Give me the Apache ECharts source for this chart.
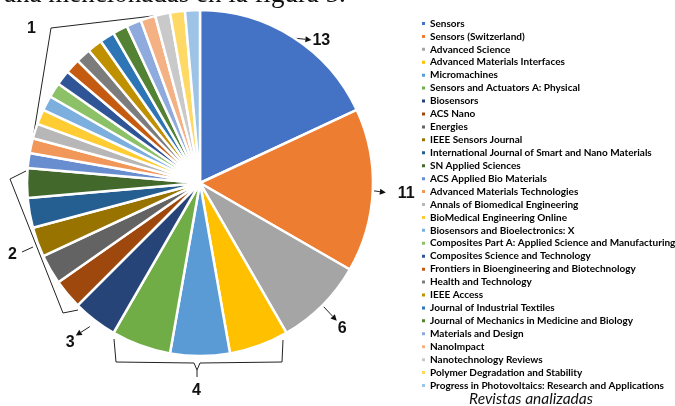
<!DOCTYPE html>
<html>
<head>
<meta charset="utf-8">
<script src="https://cdn.jsdelivr.net/npm/echarts@6/dist/echarts.min.js"></script>
<style>
html,body{margin:0;padding:0;background:#fff;}
#c{width:675px;height:406px;}
</style>
</head>
<body>
<div id="c"></div>
<script>
const journals = [
  'Sensors','Sensors (Switzerland)','Advanced Science','Advanced Materials Interfaces','Micromachines',
  'Sensors and Actuators A: Physical','Biosensors','ACS Nano','Energies','IEEE Sensors Journal',
  'International Journal of Smart and Nano Materials','SN Applied Sciences','ACS Applied Bio Materials',
  'Advanced Materials Technologies','Annals of Biomedical Engineering','BioMedical Engineering Online',
  'Biosensors and Bioelectronics: X','Composites Part A: Applied Science and Manufacturing',
  'Composites Science and Technology','Frontiers in Bioengineering and Biotechnology','Health and Technology',
  'IEEE Access','Journal of Industrial Textiles','Journal of Mechanics in Medicine and Biology',
  'Materials and Design','NanoImpact','Nanotechnology Reviews','Polymer Degradation and Stability',
  'Progress in Photovoltaics: Research and Applications'
];
const counts = [13,11,6,4,4,4,3,2,2,2,2,2,1,1,1,1,1,1,1,1,1,1,1,1,1,1,1,1,1];
const colors = [
  '#4472C4','#ED7D31','#A5A5A5','#FFC000','#5B9BD5','#70AD47',
  '#264478','#9E480E','#636363','#997300','#255E91','#43682B',
  '#698ED0','#F1975A','#B7B7B7','#FFCD33','#7CAFDD','#8CC168',
  '#2F5597','#C55A11','#7C7C7C','#BF9000','#2E75B6','#548235',
  '#8FAADC','#F4B183','#C9C9C9','#FFD966','#9DC3E6'
];
const legendTitle = 'Revistas analizadas';
const headerText = 'ana mencionadas en la figura 5.';

const cx = 200, cy = 183, R = 173;
const total = counts.reduce((a,b)=>a+b,0);
function midAngle(i){ let s=0; for(let k=0;k<i;k++) s+=counts[k]; return (s+counts[i]/2)/total*360; }
function P(a,r){ const t=a*Math.PI/180; return [cx+r*Math.sin(t), cy-r*Math.cos(t)]; }

const chart = echarts.init(document.getElementById('c'), null, {renderer:'canvas'});
const lineStyle = {stroke:'#222', lineWidth:1, fill:null};
const numFont = 'bold 16px "Liberation Sans", Arial, sans-serif';
function arrow(i, r0, end){
  const s = P(midAngle(i), r0);
  const dx = end[0]-s[0], dy = end[1]-s[1], L = Math.hypot(dx,dy);
  const ux = dx/L, uy = dy/L;
  const h = 6, w = 3;
  const b = [end[0]-ux*h, end[1]-uy*h];
  return [
    {type:'line', shape:{x1:s[0],y1:s[1],x2:b[0],y2:b[1]}, style:lineStyle},
    {type:'polygon', shape:{points:[end,[b[0]-uy*w,b[1]+ux*w],[b[0]+uy*w,b[1]-ux*w]]}, style:{fill:'#111'}}
  ];
}
const a13 = P(midAngle(0),172), a11 = P(midAngle(1),171), a6 = P(midAngle(2),175), a3 = P(midAngle(6),181);
const graphics = [
  {type:'text', left:4, top:-19, style:{text:headerText, font:'27px "Liberation Serif", "Times New Roman", serif', fill:'#111'}},
  ...arrow(0,172,[a13[0]+19, a13[1]+2]),
  {type:'text', x:a13[0]+20, y:a13[1]+3, style:{text:'13', font:numFont, fill:'#111', verticalAlign:'middle'}},
  ...arrow(1,171,[a11[0]+15, a11[1]+2]),
  {type:'text', x:a11[0]+27, y:a11[1]+3, style:{text:'11', font:numFont, fill:'#111', verticalAlign:'middle'}},
  ...arrow(2,175,[a6[0]+13, a6[1]+14]),
  {type:'text', x:a6[0]+14, y:a6[1]+22, style:{text:'6', font:numFont, fill:'#111', verticalAlign:'middle'}},
  ...arrow(6,181,[a3[0]-14, a3[1]+9]),
  {type:'text', x:a3[0]-24, y:a3[1]+16, style:{text:'3', font:numFont, fill:'#111', verticalAlign:'middle'}},
  // bracket 4
  {type:'polyline', shape:{points:[[114,339],[116,362],[194,363],[197,370],[197,377]]}, style:lineStyle},
  {type:'polyline', shape:{points:[[283,340],[282,362],[200,363],[197,370]]}, style:lineStyle},
  {type:'text', x:192, y:391, style:{text:'4', font:numFont, fill:'#111', verticalAlign:'middle'}},
  // bracket 2
  {type:'polyline', shape:{points:[[26,171],[10,179],[63,313],[78,310]]}, style:lineStyle},
  {type:'line', shape:{x1:22,y1:252,x2:33,y2:247}, style:lineStyle},
  {type:'text', x:8, y:255, style:{text:'2', font:numFont, fill:'#111', verticalAlign:'middle'}},
  // bracket 1
  {type:'polyline', shape:{points:[[29,163],[51,28],[195,11]]}, style:lineStyle},
  {type:'text', x:27, y:29, style:{text:'1', font:numFont, fill:'#111', verticalAlign:'middle'}},
  {type:'text', x:531, y:399, style:{text:legendTitle, font:'italic 15.5px Lato, "Open Sans", sans-serif', fill:'#111', align:'center', verticalAlign:'middle'}}
];

chart.setOption({
  animation:false,
  color: colors,
  legend:{
    orient:'vertical', left:415, top:12,
    itemWidth:5, itemHeight:5, itemGap:0, icon:'rect',
    textStyle:{fontFamily:'Lato', fontWeight:'bold', fontSize:10, color:'#000', lineHeight:12.93, padding:[0,0,0,-1]},
    data: journals
  },
  graphic: graphics,
  series:[{
    type:'pie', center:[cx,cy], radius:[0,R], startAngle:90, clockwise:true,
    label:{show:false}, labelLine:{show:false}, silent:true,
    itemStyle:{borderColor:'#fff', borderWidth:2.5},
    data: journals.map((n,i)=>({name:n, value:counts[i]}))
  }]
});
</script>
</body>
</html>
